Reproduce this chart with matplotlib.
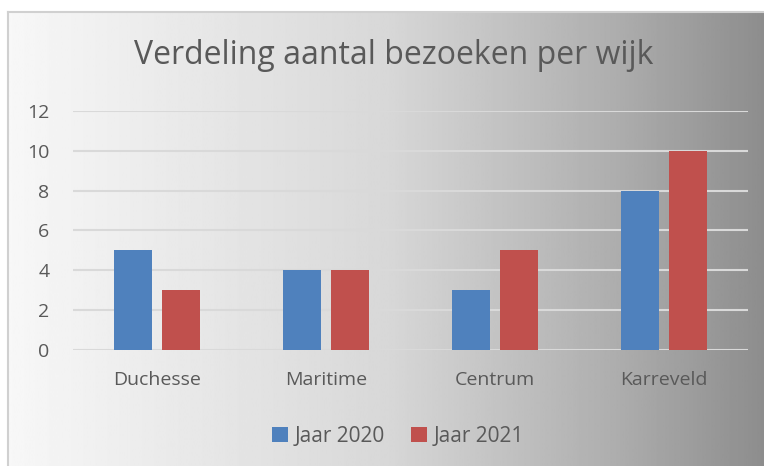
import numpy as np
import matplotlib.pyplot as plt

# chart data
wijken = ["Duchesse", "Maritime", "Centrum", "Karreveld"]
jaar_2020 = [5, 4, 3, 8]
jaar_2021 = [3, 4, 5, 10]

plt.rcParams['font.family'] = ['Open Sans', 'DejaVu Sans']
txt = '#595959'

fig = plt.figure(figsize=(7.64, 4.66), dpi=100)

# gradient background frame (light on the left, grey on the right)
bg = fig.add_axes([8/764, -0.01, 760/764, 1 - 12/466 + 0.01])
xs = np.linspace(0, 1, 512)
grad = np.interp(xs, [0, 0.5, 0.8, 1.0], [0.97, 0.845, 0.68, 0.55]).reshape(1, -1)
bg.imshow(grad, cmap='gray', vmin=0, vmax=1, aspect='auto', extent=[0, 1, 0, 1])
bg.set_xticks([])
bg.set_yticks([])
for s in bg.spines.values():
    s.set_color('#d0d0d0')
    s.set_linewidth(1.5)
bg.set_zorder(0)

ax = fig.add_axes([73/764, 1 - 350/466, 675/764, 239/466])
ax.set_zorder(1)
ax.patch.set_alpha(0)

x = np.arange(len(wijken))
w = 0.225
off = 0.1425
ax.bar(x - off, jaar_2020, w, color='#4f81bd', label='Jaar 2020', zorder=3)
ax.bar(x + off, jaar_2021, w, color='#c0504d', label='Jaar 2021', zorder=3)

ax.set_xlim(-0.5, 3.5)
ax.set_ylim(0, 12)
ax.set_yticks(range(0, 13, 2))
ax.set_xticks(x)
ax.set_xticklabels(wijken)
ax.yaxis.grid(True, color='#d9d9d9', linewidth=1.5, zorder=0)
ax.set_axisbelow(True)
for s in ax.spines.values():
    s.set_visible(False)
ax.tick_params(length=0, labelsize=14, colors=txt)
ax.tick_params(axis='x', pad=15)
ax.tick_params(axis='y', pad=17)

fig.text(394/764, 1 - 55/466, "Verdeling aantal bezoeken per wijk", ha='center', va='center',
         fontsize=23, color=txt)

leg = fig.legend(loc='center', bbox_to_anchor=(398/764, 1 - 436/466), ncol=2, frameon=False,
                 fontsize=15, handlelength=0.75, handleheight=0.75, handletextpad=0.3,
                 columnspacing=1.3)
for t in leg.get_texts():
    t.set_color(txt)

fig.savefig("out.png", dpi=100)
